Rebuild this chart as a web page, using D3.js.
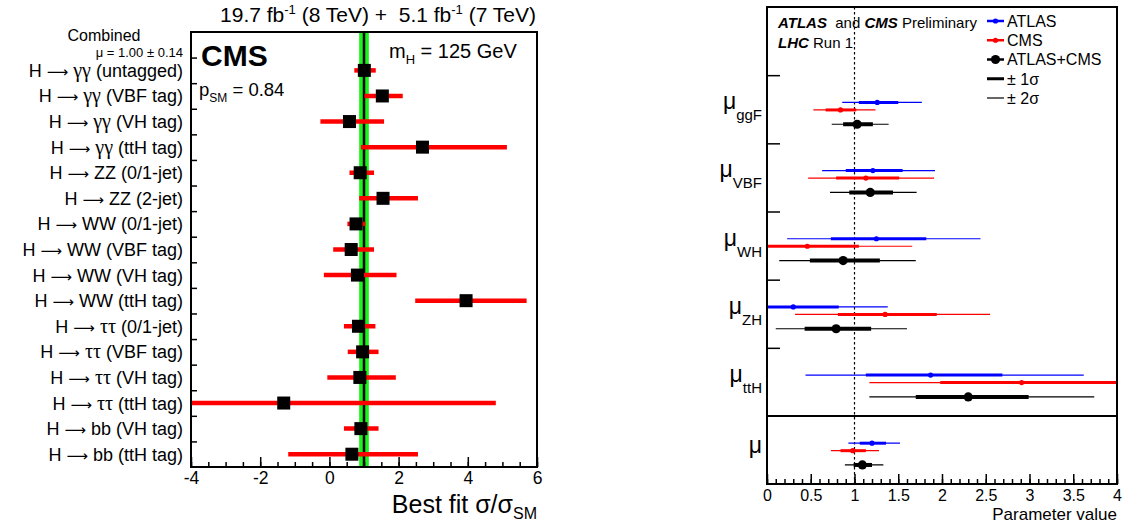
<!DOCTYPE html>
<html><head><meta charset="utf-8">
<script src="https://cdn.jsdelivr.net/npm/d3@7"></script>
<style>
body{margin:0;background:#fff}
svg{display:block}
text{font-family:"Liberation Sans",Arial,Helvetica,sans-serif;fill:#000}
</style>
</head><body>
<svg id="chart" width="1124" height="524"></svg>
<script>
// ---------- CMS per-channel signal strengths ----------
// each channel label: decay products and category
const chDecay = ["\u03b3\u03b3", "\u03b3\u03b3", "\u03b3\u03b3", "\u03b3\u03b3", "ZZ", "ZZ", "WW", "WW", "WW", "WW",
                 "\u03c4\u03c4", "\u03c4\u03c4", "\u03c4\u03c4", "\u03c4\u03c4", "bb", "bb"];
const chTag = ["(untagged)", "(VBF tag)", "(VH tag)", "(ttH tag)", "(0/1-jet)", "(2-jet)",
               "(0/1-jet)", "(VBF tag)", "(VH tag)", "(ttH tag)", "(0/1-jet)", "(VBF tag)", "(VH tag)", "(ttH tag)",
               "(VH tag)", "(ttH tag)"];
const chMu = [1.01, 1.53, 0.58, 2.69, 0.89, 1.55, 0.77, 0.63, 0.81, 3.95, 0.84, 0.96, 0.88, -1.32, 0.91, 0.65];
const chLo = [0.72, 1.01, -0.26, 0.91, 0.58, 0.86, 0.52, 0.11, -0.16, 2.48, 0.42, 0.53, -0.06, -4.50, 0.42, -1.19];
const chHi = [1.34, 2.12, 1.58, 5.13, 1.29, 2.56, 1.04, 1.29, 1.94, 5.70, 1.33, 1.42, 1.92, 4.81, 1.42, 2.56];
const combinedMu = 1.00;
const combinedErr = 0.14;
const leftMajorTicks = [-4, -2, 0, 2, 4, 6];

// ---------- ATLAS / CMS / combined production-mode strengths ----------
const params = ["ggF", "VBF", "WH", "ZH", "ttH"];
const atlasMu  = [1.26, 1.21, 1.25, 0.30, 1.87];
const atlasLo1 = [1.05, 0.90, 0.73, -0.15, 1.13];
const atlasHi1 = [1.50, 1.55, 1.82, 0.82, 2.69];
const atlasLo2 = [0.86, 0.63, 0.23, -0.55, 0.44];
const atlasHi2 = [1.77, 1.92, 2.44, 1.38, 3.62];

const cmsMu  = [0.84, 1.13, 0.46, 1.35, 2.91];
const cmsLo1 = [0.67, 0.79, -0.07, 0.81, 1.98];
const cmsHi1 = [1.02, 1.51, 1.05, 1.94, 4.05];
const cmsLo2 = [0.53, 0.47, -0.50, 0.32, 1.17];
const cmsHi2 = [1.24, 1.91, 1.66, 2.55, 5.00];

const combMu  = [1.03, 1.18, 0.87, 0.79, 2.30];
const combLo1 = [0.87, 0.94, 0.49, 0.43, 1.70];
const combHi1 = [1.21, 1.44, 1.29, 1.19, 2.99];
const combLo2 = [0.74, 0.72, 0.14, 0.10, 1.17];
const combHi2 = [1.39, 1.71, 1.70, 1.60, 3.74];

// global signal strength: [central, lo1, hi1, lo2, hi2]
const muAtlas = [1.20, 1.06, 1.36, 0.93, 1.52];
const muCms   = [0.98, 0.84, 1.13, 0.73, 1.28];
const muComb  = [1.09, 0.99, 1.20, 0.89, 1.33];

const rightMajorTicks = [0, 0.5, 1, 1.5, 2, 2.5, 3, 3.5, 4];

const NBSP = "\u00a0";
const svg = d3.select("#chart");
const defs = svg.append("defs");

// =============== LEFT PANEL ===============
const L = {x0: 191, x1: 537, y0: 32, y1: 467};
const xL = d3.scaleLinear().domain([-4, 6]).range([L.x0, L.x1]);
const yL = d3.scaleLinear().domain([0, 17]).range([L.y1, L.y0]);
const nCh = chMu.length;
const rowY = i => yL(nCh - 1 - i + 0.5);

defs.append("clipPath").attr("id", "clipL").append("rect")
  .attr("x", L.x0).attr("y", L.y0).attr("width", L.x1 - L.x0).attr("height", L.y1 - L.y0);

const gL = svg.append("g");
const plotL = gL.append("g").attr("clip-path", "url(#clipL)");

// combined band and central value
plotL.append("rect")
  .attr("x", xL(combinedMu - combinedErr)).attr("y", L.y0)
  .attr("width", xL(combinedMu + combinedErr) - xL(combinedMu - combinedErr))
  .attr("height", L.y1 - L.y0).attr("fill", "#1df21d");
plotL.append("line")
  .attr("x1", xL(combinedMu)).attr("x2", xL(combinedMu))
  .attr("y1", L.y0).attr("y2", L.y1).attr("stroke", "#000").attr("stroke-width", 2.5);

// error bars
plotL.selectAll("line.err").data(chMu).join("line").attr("class", "err")
  .attr("x1", (d, i) => xL(chLo[i])).attr("x2", (d, i) => xL(chHi[i]))
  .attr("y1", (d, i) => rowY(i)).attr("y2", (d, i) => rowY(i))
  .attr("stroke", "#ff0000").attr("stroke-width", 4.5);

// markers
const ms = 13;
plotL.selectAll("rect.mk").data(chMu).join("rect").attr("class", "mk")
  .attr("x", d => xL(d) - ms / 2).attr("y", (d, i) => rowY(i) - ms / 2)
  .attr("width", ms).attr("height", ms).attr("fill", "#000");

// axes
const axLmin = gL.append("g").attr("transform", `translate(0,${L.y1})`)
  .call(d3.axisBottom(xL).tickValues(d3.range(-4, 6.01, 0.5)).tickSizeInner(-5).tickSizeOuter(0).tickFormat(""));
const axLmaj = gL.append("g").attr("transform", `translate(0,${L.y1})`)
  .call(d3.axisBottom(xL).tickValues(leftMajorTicks).tickSizeInner(-10).tickSizeOuter(0).tickPadding(5).tickFormat(d3.format("d")));
axLmaj.selectAll("text").style("font-size", "17.5px").text(d => d < 0 ? "-" + Math.abs(d) : d);
const axLy = gL.append("g").attr("transform", `translate(${L.x0},0)`)
  .call(d3.axisLeft(yL).tickValues(d3.range(1, 17)).tickSizeInner(-6).tickSizeOuter(0).tickFormat(""));
[axLmin, axLmaj, axLy].forEach(a => {
  a.select(".domain").remove();
  a.selectAll(".tick line").attr("stroke", "#000").attr("stroke-width", 1.5);
});

// frame
gL.append("rect").attr("x", L.x0).attr("y", L.y0).attr("width", L.x1 - L.x0).attr("height", L.y1 - L.y0)
  .attr("fill", "none").attr("stroke", "#000").attr("stroke-width", 2);

// channel labels
const greek = s => s.startsWith("\u03b3") || s.startsWith("\u03c4");
const chLabels = gL.selectAll("text.ch").data(chMu).join("text").attr("class", "ch")
  .attr("x", 183).attr("y", (d, i) => rowY(i)).attr("dy", "0.36em")
  .attr("text-anchor", "end").style("font-size", "18px");
chLabels.append("tspan").text("H" + NBSP);
chLabels.append("tspan").style("font-family", "'DejaVu Sans'").style("font-size", "15px").text("\u27f6");
chLabels.append("tspan").text(NBSP);
chLabels.append("tspan")
  .style("font-family", (d, i) => greek(chDecay[i]) ? "'Liberation Serif'" : null)
  .style("font-size", (d, i) => greek(chDecay[i]) ? "20px" : null)
  .text((d, i) => chDecay[i]);
chLabels.append("tspan").text((d, i) => " " + chTag[i]);

gL.append("text").attr("x", 104).attr("y", 41).attr("text-anchor", "middle")
  .style("font-size", "16px").text("Combined");
gL.append("text").attr("x", 183).attr("y", 57).attr("text-anchor", "end")
  .style("font-size", "13px").text("\u03bc = 1.00 \u00b1 0.14");

// annotations
gL.append("text").attr("x", 201).attr("y", 66).style("font-size", "30px").style("font-weight", "bold").text("CMS");
const mh = gL.append("text").attr("x", 389).attr("y", 58).style("font-size", "20px");
mh.append("tspan").text("m");
mh.append("tspan").attr("dy", 6).style("font-size", "13px").text("H");
mh.append("tspan").attr("dy", -6).text(" = 125 GeV");
const psm = gL.append("text").attr("x", 199).attr("y", 96).style("font-size", "18.5px");
psm.append("tspan").text("p");
psm.append("tspan").attr("dy", 6).style("font-size", "12px").text("SM");
psm.append("tspan").attr("dy", -6).text(" = 0.84");

const ttl = gL.append("text").attr("x", 536).attr("y", 22).attr("text-anchor", "end").style("font-size", "21px");
ttl.append("tspan").text("19.7 fb");
ttl.append("tspan").attr("dy", -8).style("font-size", "13px").text("-1");
ttl.append("tspan").attr("dy", 8).text(" (8 TeV) +" + NBSP + NBSP + "5.1 fb");
ttl.append("tspan").attr("dy", -8).style("font-size", "13px").text("-1");
ttl.append("tspan").attr("dy", 8).text(" (7 TeV)");

const xt = gL.append("text").attr("x", 537).attr("y", 513).attr("text-anchor", "end").style("font-size", "25px");
xt.append("tspan").text("Best fit \u03c3/\u03c3");
xt.append("tspan").attr("dy", 6).style("font-size", "16px").text("SM");

// =============== RIGHT PANEL ===============
const R = {x0: 767, x1: 1117, y0: 7, ysep: 416, y1: 484};
const xR = d3.scaleLinear().domain([0, 4]).range([R.x0, R.x1]);
const yR = d3.scaleLinear().domain([0, 6]).range([R.y0, R.ysep]);
const yM = d3.scaleLinear().domain([0, 1]).range([R.ysep, R.y1]);
const offAtlas = 0.40, offCms = 0.51, offComb = 0.72;

defs.append("clipPath").attr("id", "clipR").append("rect")
  .attr("x", R.x0).attr("y", R.y0).attr("width", R.x1 - R.x0).attr("height", R.y1 - R.y0);

const gR = svg.append("g");
const plotR = gR.append("g").attr("clip-path", "url(#clipR)");

plotR.append("line").attr("x1", xR(1)).attr("x2", xR(1)).attr("y1", R.y0).attr("y2", R.y1)
  .attr("stroke", "#000").attr("stroke-width", 1.2).attr("stroke-dasharray", "2.5,2.5");

function drawMeas(y, c, lo1, hi1, lo2, hi2, color, thick, r) {
  plotR.append("line").attr("x1", xR(lo2)).attr("x2", xR(hi2)).attr("y1", y).attr("y2", y)
    .attr("stroke", color).attr("stroke-width", 1.2);
  plotR.append("line").attr("x1", xR(lo1)).attr("x2", xR(hi1)).attr("y1", y).attr("y2", y)
    .attr("stroke", color).attr("stroke-width", thick);
  plotR.append("circle").attr("cx", xR(c)).attr("cy", y).attr("r", r).attr("fill", color);
}

params.forEach((p, i) => {
  drawMeas(yR(i + 1 + offAtlas), atlasMu[i], atlasLo1[i], atlasHi1[i], atlasLo2[i], atlasHi2[i], "#0000ff", 3, 2.6);
  drawMeas(yR(i + 1 + offCms), cmsMu[i], cmsLo1[i], cmsHi1[i], cmsLo2[i], cmsHi2[i], "#ff0000", 3, 2.6);
  drawMeas(yR(i + 1 + offComb), combMu[i], combLo1[i], combHi1[i], combLo2[i], combHi2[i], "#000", 4, 4.6);
});
drawMeas(yM(offAtlas), ...muAtlas, "#0000ff", 3, 2.6);
drawMeas(yM(offCms), ...muCms, "#ff0000", 3, 2.6);
drawMeas(yM(offComb), ...muComb, "#000", 4, 4.6);

// axes
const axRmin = gR.append("g").attr("transform", `translate(0,${R.y1})`)
  .call(d3.axisBottom(xR).tickValues(d3.range(0, 4.001, 0.1)).tickSizeInner(-5).tickSizeOuter(0).tickFormat(""));
const axRmaj = gR.append("g").attr("transform", `translate(0,${R.y1})`)
  .call(d3.axisBottom(xR).tickValues(rightMajorTicks).tickSizeInner(-10).tickSizeOuter(0).tickPadding(6).tickFormat(d => String(d)));
axRmaj.selectAll("text").style("font-size", "16px");
const axRy = gR.append("g").attr("transform", `translate(${R.x0},0)`)
  .call(d3.axisLeft(yR).tickValues([1, 2, 3, 4, 5]).tickSizeInner(-13).tickSizeOuter(0).tickFormat(""));
[axRmin, axRmaj, axRy].forEach(a => {
  a.select(".domain").remove();
  a.selectAll(".tick line").attr("stroke", "#000").attr("stroke-width", 1.5);
});

gR.append("rect").attr("x", R.x0).attr("y", R.y0).attr("width", R.x1 - R.x0).attr("height", R.y1 - R.y0)
  .attr("fill", "none").attr("stroke", "#000").attr("stroke-width", 2);
gR.append("line").attr("x1", R.x0).attr("x2", R.x1).attr("y1", R.ysep).attr("y2", R.ysep)
  .attr("stroke", "#000").attr("stroke-width", 2);

// parameter labels
params.forEach((p, i) => {
  const yc = yR(i + 1.5);
  const t = gR.append("text").attr("x", 762).attr("y", yc).attr("text-anchor", "end");
  t.append("tspan").style("font-size", "23px").text("\u03bc");
  t.append("tspan").attr("dy", 11).style("font-size", "15px").text(p);
});
gR.append("text").attr("x", 762).attr("y", yM(0.5) + 3).attr("text-anchor", "end")
  .style("font-size", "23px").text("\u03bc");

gR.append("text").attr("x", 1117).attr("y", 520).attr("text-anchor", "end")
  .style("font-size", "17px").text("Parameter value");

// header text
const h1 = gR.append("text").attr("x", 778).attr("y", 28).style("font-size", "15px");
h1.append("tspan").style("font-weight", "bold").style("font-style", "italic").text("ATLAS");
h1.append("tspan").text(NBSP + " and ");
h1.append("tspan").style("font-weight", "bold").style("font-style", "italic").text("CMS");
h1.append("tspan").text(" Preliminary");
const h2 = gR.append("text").attr("x", 778).attr("y", 48).style("font-size", "15px");
h2.append("tspan").style("font-weight", "bold").style("font-style", "italic").text("LHC");
h2.append("tspan").text(" Run 1");

// legend
const legItems = [
  {label: "ATLAS", color: "#0000ff", w: 2.5, r: 2.6},
  {label: "CMS", color: "#ff0000", w: 2.5, r: 2.6},
  {label: "ATLAS+CMS", color: "#000", w: 2.5, r: 4.6},
  {label: "\u00b1 1\u03c3", color: "#000", w: 3, r: 0},
  {label: "\u00b1 2\u03c3", color: "#000", w: 1.2, r: 0}
];
const legY = d3.scaleLinear().domain([0, 4]).range([21, 98]);
const leg = gR.append("g");
legItems.forEach((it, i) => {
  const y = legY(i);
  leg.append("line").attr("x1", 987).attr("x2", 1004).attr("y1", y).attr("y2", y)
    .attr("stroke", it.color).attr("stroke-width", it.w);
  if (it.r > 0) leg.append("circle").attr("cx", 995.5).attr("cy", y).attr("r", it.r).attr("fill", it.color);
  leg.append("text").attr("x", 1007).attr("y", y).attr("dy", "0.36em").style("font-size", "16px").text(it.label);
});
</script>
</body></html>
